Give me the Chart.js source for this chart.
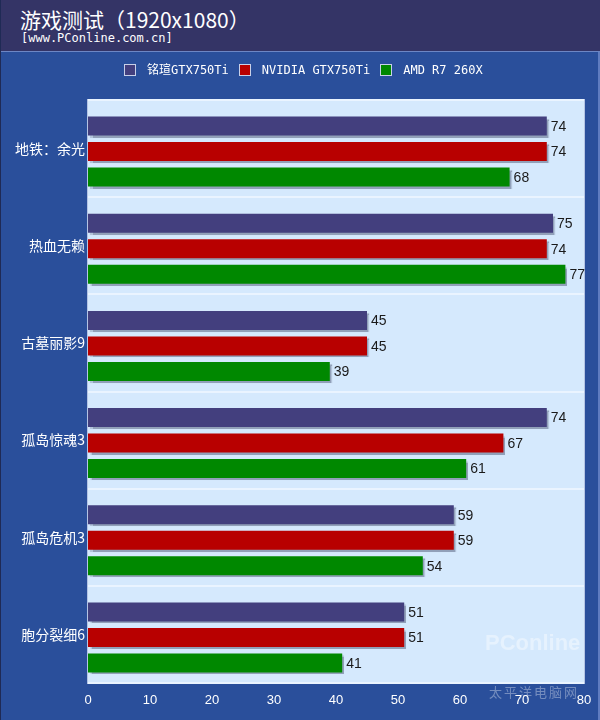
<!DOCTYPE html>
<html>
<head>
<meta charset="utf-8">
<script src="https://cdn.jsdelivr.net/npm/chart.js@4"></script>
<style>
  html, body { margin: 0; padding: 0; }
  body { width: 600px; height: 720px; overflow: hidden; }
  #wrap { position: relative; width: 600px; height: 720px; background: #2a4f9b; box-sizing: border-box; border-left: 1px solid #1f2a55; border-right: 2px solid #5f7cc0; }
  #head { position: absolute; left: 0; top: 0; width: 600px; height: 51px; background: #343466; border-bottom: 1px solid #6d86c4; }
  #title { position: absolute; left: 19px; top: 6px; color: #fff; font: 21px "Noto Sans CJK SC", sans-serif; line-height: 26px; white-space: nowrap; }
  #sub { position: absolute; left: 20px; top: 31px; color: #fff; font: 12px "DejaVu Sans Mono", monospace; line-height: 14px; white-space: nowrap; }
  #legend { position: absolute; left: 123px; top: 62px; display: flex; gap: 10px; color: #fff; font: 12px "DejaVu Sans Mono", "Noto Sans CJK SC", monospace; line-height: 16px; }
  #legend span.item { display: flex; align-items: center; gap: 11px; white-space: nowrap; }
  #legend i { display: block; width: 10px; height: 10px; border: 1px solid #c8d0e8; }
  #chart { position: absolute; left: 0; top: 0; }
  #mark { position: absolute; left: 484px; top: 630px; color: rgba(255,255,255,0.4); font: bold 22px "Liberation Sans", sans-serif; white-space: nowrap; pointer-events: none; }
  #mark2 { position: absolute; left: 488px; top: 682px; color: rgba(255,255,255,0.35); font: 13px "Noto Sans CJK SC", sans-serif; letter-spacing: 2px; white-space: nowrap; pointer-events: none; }
</style>
</head>
<body>
<div id="wrap">
  <canvas id="chart" width="600" height="720"></canvas>
  <div id="head">
    <div id="title">游戏测试（1920x1080）</div>
    <div id="sub">[www.PConline.com.cn]</div>
  </div>
  <div id="legend"></div>
  <div id="mark">PConline</div>
  <div id="mark2">太平洋电脑网</div>
</div>
<script>
  // categories and series
  const games = ['地铁：余光', '热血无赖', '古墓丽影9', '孤岛惊魂3', '孤岛危机3', '胞分裂细6'];
  const mingxuan = [74, 75, 45, 74, 59, 51];
  const nvidia = [74, 74, 45, 67, 59, 51];
  const amd = [68, 77, 39, 61, 54, 41];
  const seriesNames = ['铭瑄GTX750Ti', 'NVIDIA GTX750Ti', 'AMD R7 260X'];
  const xTicks = [0, 10, 20, 30, 40, 50, 60, 70, 80];

  const colors = ['#433f7e', '#b80000', '#008800'];

  // legend in html
  const legendEl = document.getElementById('legend');
  seriesNames.forEach((name, i) => {
    const item = document.createElement('span');
    item.className = 'item';
    item.innerHTML = '<i style="background:' + colors[i] + '"></i>' + name;
    legendEl.appendChild(item);
  });

  const plotBg = {
    id: 'plotBg',
    beforeDraw(chart) {
      const { ctx, chartArea: a } = chart;
      ctx.save();
      ctx.fillStyle = '#d5e9fd';
      ctx.fillRect(a.left, a.top, a.right - a.left, a.bottom - a.top);
      ctx.strokeStyle = '#b4c4e4';
      ctx.lineWidth = 1;
      ctx.strokeRect(a.left - 0.5, a.top - 0.5, a.right - a.left + 1, a.bottom - a.top + 1);
      ctx.restore();
    },
    beforeDatasetsDraw(chart) {
      const ctx = chart.ctx;
      ctx.save();
      ctx.translate(0, 3); // bars sit a bit low in their band
      ctx.shadowColor = 'rgba(90,100,130,0.55)';
      ctx.shadowOffsetX = 2;
      ctx.shadowOffsetY = 2;
      ctx.shadowBlur = 1;
    },
    afterDatasetsDraw(chart) {
      const ctx = chart.ctx;
      ctx.shadowColor = 'transparent';
      ctx.fillStyle = '#1a1a1a';
      ctx.font = '14px "Liberation Sans", Arial, sans-serif';
      ctx.textBaseline = 'middle';
      ctx.textAlign = 'left';
      chart.data.datasets.forEach((ds, di) => {
        chart.getDatasetMeta(di).data.forEach((bar, i) => {
          ctx.fillText(String(ds.data[i]), bar.x + 4, bar.y + 1);
        });
      });
      ctx.restore();
    }
  };

  new Chart(document.getElementById('chart'), {
    type: 'bar',
    data: {
      labels: games,
      datasets: seriesNames.map((name, i) => ({
        label: name,
        data: [mingxuan, nvidia, amd][i],
        backgroundColor: colors[i],
        borderWidth: 0,
        categoryPercentage: 0.787,
        barPercentage: 0.745,
      })),
    },
    options: {
      indexAxis: 'y',
      responsive: false,
      animation: false,
      layout: { padding: { left: 0, top: 100, right: 17, bottom: 0 } },
      scales: {
        x: {
          min: 0,
          max: 80,
          afterFit: (s) => { s.height = 37; },
          afterBuildTicks: (s) => { s.ticks = xTicks.map(v => ({ value: v })); },
          grid: { display: false },
          border: { display: false },
          ticks: { color: '#ffffff', padding: 2, font: { size: 13, family: '"Liberation Sans", Arial, sans-serif' } },
        },
        y: {
          afterFit: (s) => { s.width = 87; },
          grid: { color: '#eaf4ff', lineWidth: 2, drawTicks: false, offset: true },
          border: { display: false },
          ticks: { color: '#ffffff', padding: 3, font: { size: 14, family: '"Noto Sans CJK SC", sans-serif' } },
        },
      },
      plugins: {
        legend: { display: false },
        tooltip: { enabled: false },
      },
    },
    plugins: [plotBg],
  });
</script>
</body>
</html>
